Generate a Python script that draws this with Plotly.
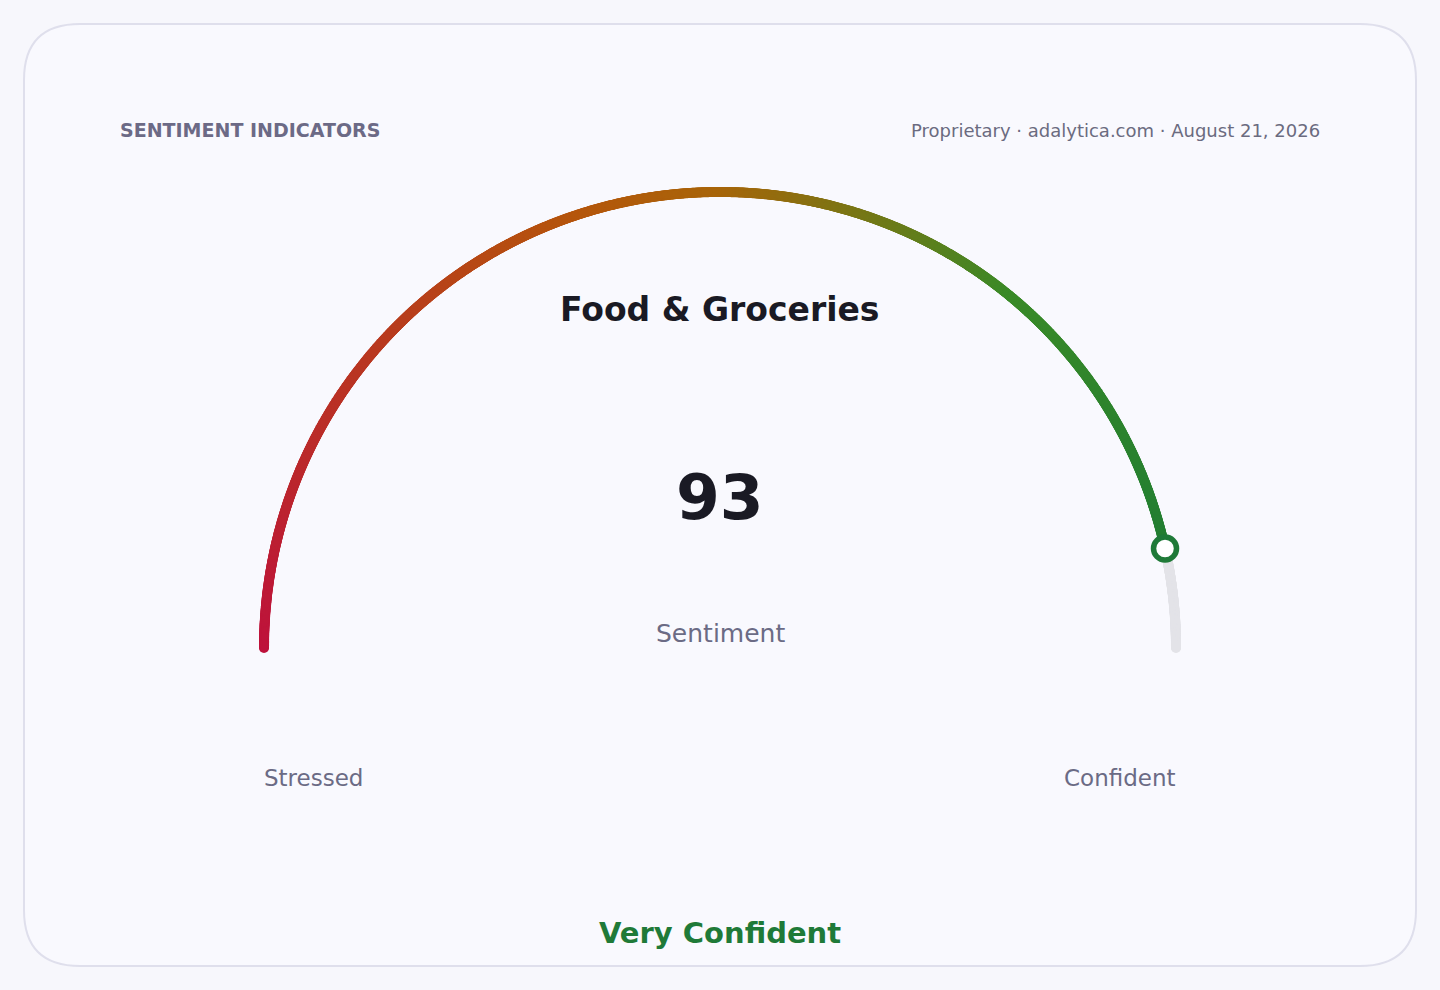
import numpy as np
import plotly.graph_objects as go

# gauge data
category = "Food & Groceries"
metric_label = "Sentiment"
score = 93
scale_min = 0
scale_max = 100
end_labels = ["Stressed", "Confident"]
verdict = "Very Confident"
header_left = "SENTIMENT INDICATORS"
header_right = "Proprietary · adalytica.com · August 21, 2026"

# colour stops along the scale (fraction, colour)
stop_pos = [0.0, 0.4, 0.5, 0.62, 0.72, 1.0]
stop_col = ["#be123c", "#b5560c", "#a8650a", "#6e7a18", "#3a8a28", "#1b7a36"]

W, H = 1440, 990
cx, cy, r = 720, 648, 456
green = "#1f7a38"


def hex_rgb(h):
    h = h.lstrip("#")
    return [int(h[i:i + 2], 16) for i in (0, 2, 4)]


def grad(f):
    for i in range(len(stop_pos) - 1):
        if f <= stop_pos[i + 1]:
            t = (f - stop_pos[i]) / (stop_pos[i + 1] - stop_pos[i])
            a, b = hex_rgb(stop_col[i]), hex_rgb(stop_col[i + 1])
            c = [round(a[k] + (b[k] - a[k]) * t) for k in range(3)]
            return "rgb(%d,%d,%d)" % tuple(c)
    return stop_col[-1]


def arc_xy(fr):
    th = np.pi * (1 - np.asarray(fr))
    return cx + r * np.cos(th), cy - r * np.sin(th)


frac = (score - scale_min) / (scale_max - scale_min)

fig = go.Figure()

# grey remaining track
f_rest = np.linspace(frac, 1.0, 200)
xr, yr = arc_xy(f_rest)
fig.add_trace(go.Scatter(x=xr, y=yr, mode="markers", hoverinfo="skip",
                         marker=dict(size=10, color="#e3e3e8", line=dict(width=0))))

# coloured part of the arc
f_val = np.linspace(0, frac, 1400)
xv, yv = arc_xy(f_val)
fig.add_trace(go.Scatter(x=xv, y=yv, mode="markers", hoverinfo="skip",
                         marker=dict(size=10, color=[grad(f) for f in f_val], line=dict(width=0))))

# value marker
xm, ym = arc_xy([frac])
fig.add_trace(go.Scatter(x=xm, y=ym, mode="markers", hoverinfo="skip",
                         marker=dict(size=23, color="#ffffff", line=dict(width=5.5, color=green))))

# card
rad = 56
x0, y0, x1, y1 = 24, 24, 1416, 966
card = (f"M {x0 + rad},{y0} L {x1 - rad},{y0} Q {x1},{y0} {x1},{y0 + rad} "
        f"L {x1},{y1 - rad} Q {x1},{y1} {x1 - rad},{y1} L {x0 + rad},{y1} "
        f"Q {x0},{y1} {x0},{y1 - rad} L {x0},{y0 + rad} Q {x0},{y0} {x0 + rad},{y0} Z")
fig.add_shape(type="path", path=card, xref="x", yref="y", layer="below",
              line=dict(color="#dfdfec", width=2), fillcolor="#f9f9fe")

font = "DejaVu Sans"


def label(x, y, text, size, color, bold=False, anchor="center"):
    shift = {"left": -2, "right": 2}.get(anchor, 0)
    fig.add_annotation(x=x, y=y, xref="x", yref="y", text=("<b>%s</b>" % text) if bold else text,
                       showarrow=False, xanchor=anchor, yanchor="middle", xshift=shift,
                       font=dict(family=font, size=size, color=color))


label(120, 130, header_left, 19, "#6c6a86", bold=True, anchor="left")
label(1320, 130, header_right, 18, "#6b6b80", anchor="right")
label(720, 309, category, 33, "#1a1a24", bold=True)
label(720, 497, str(score), 63, "#1a1a24", bold=True)
label(720, 633, metric_label, 25, "#6b6b85")
label(cx - r, 778, end_labels[0], 23, "#6b6b85", anchor="left")
label(cx + r, 778, end_labels[1], 23, "#6b6b85", anchor="right")
label(720, 933, verdict, 29, green, bold=True)

fig.update_layout(
    width=W, height=H,
    margin=dict(l=0, r=0, t=0, b=0),
    paper_bgcolor="#f7f7fc", plot_bgcolor="rgba(0,0,0,0)",
    showlegend=False,
    xaxis=dict(range=[0, W], visible=False, fixedrange=True),
    yaxis=dict(range=[H, 0], visible=False, fixedrange=True),
)

fig.write_html("out.html", config={"displayModeBar": False},
               post_script="document.body.style.margin='0';document.body.style.background='#f7f7fc';")
